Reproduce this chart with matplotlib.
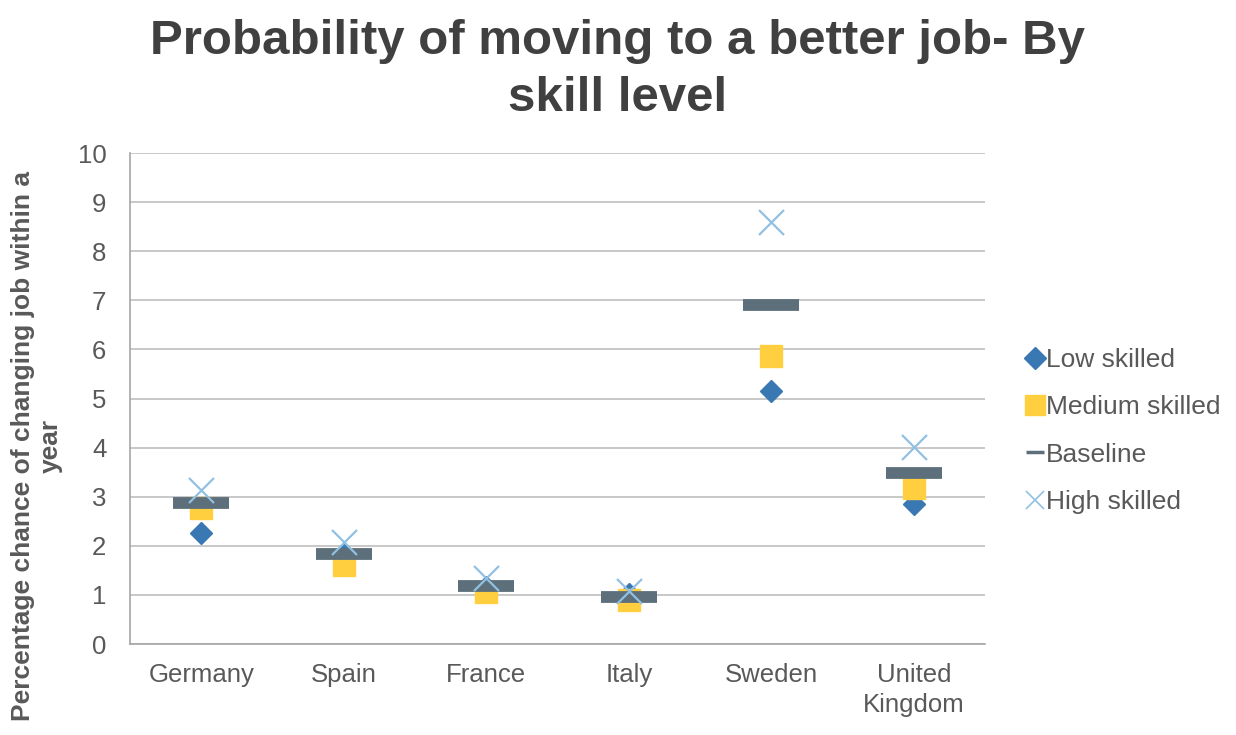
import numpy as np
import matplotlib.pyplot as plt
from matplotlib.lines import Line2D

plt.rcParams['font.family'] = ['Liberation Sans', 'DejaVu Sans']

countries = ["Germany", "Spain", "France", "Italy", "Sweden", "United\nKingdom"]
low_skilled = [2.26, 1.82, 1.17, 1.02, 5.16, 2.86]
medium_skilled = [2.76, 1.60, 1.05, 0.89, 5.86, 3.18]
baseline = [2.88, 1.83, 1.18, 0.96, 6.90, 3.49]
high_skilled = [3.14, 2.08, 1.35, 1.08, 8.59, 4.02]

c_low = "#3A78B4"
c_med = "#FFCF40"
c_base = "#5D6F7B"
c_high = "#92C0E2"
txt = "#595959"

fig = plt.figure(figsize=(12.36, 7.35), dpi=100)
ax = fig.add_axes([0.1052, 0.1238, 0.797 - 0.1052, 0.7918 - 0.1238])

x = np.arange(len(countries))
ax.plot(x, low_skilled, ls="none", marker="D", ms=11.5, color=c_low, mec=c_low, zorder=3)
ax.plot(x, medium_skilled, ls="none", marker="s", ms=16, color=c_med, mec=c_med, zorder=4)
ax.plot(x, baseline, ls="none", marker="_", ms=41, mew=8.5, color=c_base, zorder=5)
ax.plot(x, high_skilled, ls="none", marker="x", ms=18, mew=1.6, color=c_high, zorder=6)

ax.set_xlim(-0.5, len(countries) - 0.5)
ax.set_ylim(0, 10)
ax.set_yticks(range(0, 11))
ax.set_xticks(x)
ax.set_xticklabels(countries, linespacing=1.3)
ax.grid(axis="y", color="#BFBFBF", lw=1.2)
ax.set_axisbelow(True)
for s in ["top", "right"]:
    ax.spines[s].set_visible(False)
for s in ["left", "bottom"]:
    ax.spines[s].set_color("#A6A6A6")
    ax.spines[s].set_linewidth(1.2)
ax.tick_params(axis="y", length=0, pad=17, labelsize=18.5, labelcolor=txt)
ax.tick_params(axis="x", length=0, pad=14, labelsize=18.5, labelcolor=txt)

fig.text(0.5, 1 - 19 / 735, "Probability of moving to a better job- By\nskill level",
         ha="center", va="top", fontsize=35.5, fontweight="bold", color="#404040",
         linespacing=1.33)
fig.text(37 / 1236, 1 - 446 / 735, "Percentage chance of changing job within a\nyear",
         rotation=90, ha="center", va="center", multialignment="center",
         fontsize=19, fontweight="bold", color=txt, linespacing=1.22)

handles = [
    Line2D([], [], ls="none", marker="D", ms=11, color=c_low),
    Line2D([], [], ls="none", marker="s", ms=15, color=c_med),
    Line2D([], [], ls="none", marker="_", ms=13, mew=2.5, color=c_base),
    Line2D([], [], ls="none", marker="x", ms=13, mew=1.2, color=c_high),
]
labels = ["Low skilled", "Medium skilled", "Baseline", "High skilled"]
leg = fig.legend(handles, labels, loc="center left", bbox_to_anchor=(1013 / 1236, 1 - 431 / 735),
                 frameon=False, fontsize=19, handlelength=0.7, handletextpad=0.05,
                 labelspacing=0.88, borderpad=0)
for t in leg.get_texts():
    t.set_color(txt)

fig.savefig("out.png", dpi=100)
